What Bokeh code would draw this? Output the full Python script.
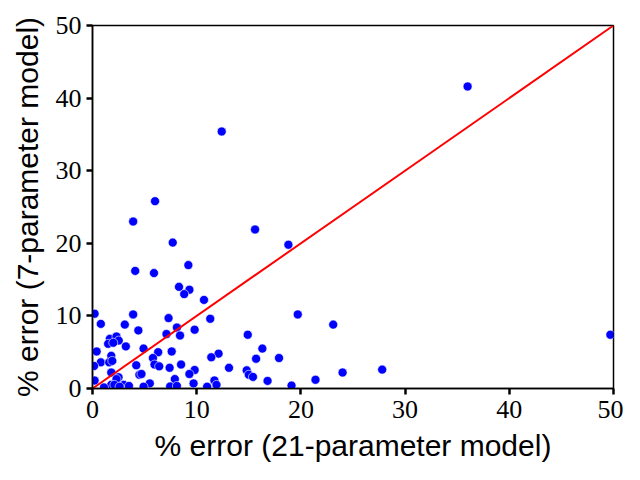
from bokeh.plotting import figure
from bokeh.models import ColumnDataSource, Range1d, FixedTicker
from bokeh.embed import file_html
from bokeh.resources import INLINE

# % error values: x = 21-parameter model, y = 7-parameter model
err21 = [36.0, 12.4, 6.0, 3.9, 7.7, 15.6, 18.8, 9.2, 4.1, 5.9,
         8.3, 9.3, 8.8, 10.7, 0.2, 3.9, 19.7, 7.3, 11.3, 0.8,
         3.1, 23.1, 4.4, 8.1, 9.8, 7.1, 8.4, 14.9, 49.7, 1.66,
         2.3, 2.52, 1.5, 1.99, 3.2, 4.9, 16.3, 0.4, 6.3, 7.6,
         12.1, 1.8, 11.4, 5.8, 15.7, 17.9, 0.8, 1.6, 1.9, 0.15,
         4.2, 5.95, 6.4, 7.4, 8.5, 13.1, 9.8, 14.8, 24.0, 27.8,
         1.8, 9.3, 15.0, 4.5, 4.7, 15.4, 2.5, 2.3, 7.9, 0.2,
         11.7, 16.8, 21.4, 9.7, 5.5, 11.9, 1.8, 2.1, 3.0, 3.5,
         2.6, 1.1, 4.9, 7.45, 8.1, 11.0, 19.1]
err7 = [41.6, 35.4, 25.8, 23.0, 20.1, 21.9, 19.8, 17.0, 16.2, 15.9,
        14.0, 13.6, 13.0, 12.2, 10.3, 10.2, 10.2, 9.7, 9.6, 8.9,
        8.8, 8.8, 8.0, 8.4, 8.1, 7.5, 7.3, 7.4, 7.4, 6.84,
        7.16, 6.6, 6.15, 6.3, 5.8, 5.5, 5.5, 5.1, 5.0, 5.1,
        4.8, 4.5, 4.3, 4.2, 4.1, 4.2, 3.6, 3.6, 3.8, 3.1,
        3.2, 3.3, 3.05, 2.85, 3.3, 2.85, 2.55, 2.5, 2.2, 2.6,
        2.2, 2.0, 1.9, 1.9, 2.0, 1.6, 1.55, 1.3, 1.3, 1.1,
        1.1, 1.05, 1.2, 0.7, 0.7, 0.5, 0.5, 0.5, 0.5, 0.35,
        0.25, 0.15, 0.25, 0.28, 0.35, 0.25, 0.4]
diag_x = [0, 50]
diag_y = [0, 50]
ticks = [0, 10, 20, 30, 40, 50]

p = figure(width=624, height=464, output_backend="svg", toolbar_location=None,
           x_range=Range1d(0, 50), y_range=Range1d(0, 50),
           frame_width=521, frame_height=363,
           min_border_left=92, min_border_top=25, min_border_right=10, min_border_bottom=76)
p.background_fill_color = "white"
p.border_fill_color = "white"
p.grid.visible = False
p.outline_line_color = "black"
p.outline_line_width = 1.5

src = ColumnDataSource(dict(x=err21, y=err7))
p.scatter("x", "y", source=src, size=9, fill_color="#0000ff", line_color="white", line_width=0.6)
p.line(diag_x, diag_y, line_color="#ff0000", line_width=2)

for ax in (p.xaxis[0], p.yaxis[0]):
    ax.ticker = FixedTicker(ticks=ticks)
    ax.minor_tick_line_color = None
    ax.major_tick_out = 6
    ax.major_tick_in = 0
    ax.major_tick_line_width = 2.5
    ax.axis_line_width = 1.5
    ax.major_label_text_font = "Liberation Serif"
    ax.major_label_text_font_size = "26px"
    ax.major_label_text_color = "black"
    ax.axis_label_text_font = "Liberation Sans"
    ax.axis_label_text_font_size = "30px"
    ax.axis_label_text_font_style = "normal"
    ax.axis_label_text_color = "black"

p.xaxis.major_label_standoff = 6
p.yaxis.major_label_standoff = 5
p.xaxis.axis_label = "% error (21-parameter model)"
p.yaxis.axis_label = "% error (7-parameter model)"
p.xaxis.axis_label_standoff = 8
p.yaxis.axis_label_standoff = 9

open("out.html", "w").write(file_html(p, INLINE))
